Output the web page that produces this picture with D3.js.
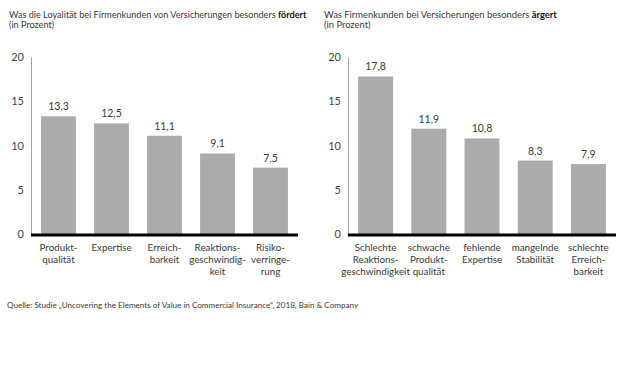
<!DOCTYPE html>
<html><head><meta charset="utf-8">
<script src="https://cdn.jsdelivr.net/npm/d3@7"></script>
<style>
body{margin:0;background:#fff;}
svg{display:block;font-family:Lato,"Open Sans",sans-serif;}
</style></head><body>
<svg id="c" width="621" height="383"></svg>
<script>
const leftCategories = [["Produkt-","qualität"],["Expertise"],["Erreich-","barkeit"],["Reaktions-","geschwindig-","keit"],["Risiko-","verringe-","rung"]];
const leftValues = [13.3, 12.5, 11.1, 9.1, 7.5];
const rightCategories = [["Schlechte","Reaktions-","geschwindigkeit"],["schwache","Produkt-","qualität"],["fehlende","Expertise"],["mangelnde","Stabilität"],["schlechte","Erreich-","barkeit"]];
const rightValues = [17.8, 11.9, 10.8, 8.3, 7.9];
const yTicks = [0, 5, 10, 15, 20];
const leftTitle = ["Was die Loyalität bei Firmenkunden von Versicherungen besonders ", "fördert"];
const rightTitle = ["Was Firmenkunden bei Versicherungen besonders ", "ärgert"];
const subTitle = "(in Prozent)";
const source = "Quelle: Studie „Uncovering the Elements of Value in Commercial Insurance“, 2018, Bain & Company";

const svg = d3.select("#c");
const de = d3.formatLocale({decimal:",", thousands:".", grouping:[3], currency:["","€"]});
const fmt = de.format(".1f");
const textCol = "#3a3a3a";

function panel(x0, x1, tx0, titleParts, cats, vals, titleSize) {
  const g = svg.append("g");
  const t = g.append("text").attr("x", tx0).attr("y", 18).attr("font-size", titleSize).attr("fill", textCol);
  t.append("tspan").text(titleParts[0]);
  t.append("tspan").attr("font-weight", "bold").attr("fill","#111").text(titleParts[1]);
  g.append("text").attr("x", tx0).attr("y", 28).attr("font-size", titleSize).attr("fill", textCol).text(subTitle);

  const y = d3.scaleLinear().domain([0, 20]).range([234, 57]);
  const x = d3.scaleBand().domain(d3.range(vals.length)).range([x0, x1]).paddingInner(0.343).paddingOuter(0.19);

  const ax = g.append("g").attr("transform", `translate(${x0},0)`)
    .call(d3.axisLeft(y).tickValues(yTicks).tickSize(0).tickPadding(7).tickFormat(d3.format("d")));
  ax.select(".domain").attr("stroke", "#888").attr("stroke-width", 0.8);
  ax.selectAll("text").attr("font-size", 11).attr("fill", "#444").attr("font-family", "Lato,'Open Sans',sans-serif");

  g.selectAll("rect.bar").data(vals).join("rect").attr("class","bar")
    .attr("x", (d,i) => x(i)).attr("width", x.bandwidth())
    .attr("y", d => y(d)).attr("height", d => y(0) - y(d))
    .attr("fill", "#ababab");

  g.selectAll("text.val").data(vals).join("text").attr("class","val")
    .attr("x", (d,i) => x(i) + x.bandwidth()/2).attr("y", d => y(d) - 6)
    .attr("text-anchor","middle").attr("font-size", 10.5).attr("fill", textCol)
    .text(d => fmt(d));

  g.append("line").attr("x1", x0).attr("x2", x1).attr("y1", y(0)+1).attr("y2", y(0)+1)
    .attr("stroke", "#000").attr("stroke-width", 3);

  cats.forEach((lines, i) => {
    const tx = g.append("text").attr("x", x(i) + x.bandwidth()/2).attr("y", 251)
      .attr("text-anchor","middle").attr("font-size", 9.8).attr("fill", textCol);
    lines.forEach((l, j) => tx.append("tspan").attr("x", x(i) + x.bandwidth()/2).attr("dy", j === 0 ? 0 : 12).text(l));
  });
}

panel(31, 298, 9, leftTitle, leftCategories, leftValues, 9.1);
panel(348, 616, 324, rightTitle, rightCategories, rightValues, 9.4);

svg.append("text").attr("x", 7).attr("y", 308).attr("font-size", 8.1).attr("fill", textCol).text(source);
</script>
</body></html>
